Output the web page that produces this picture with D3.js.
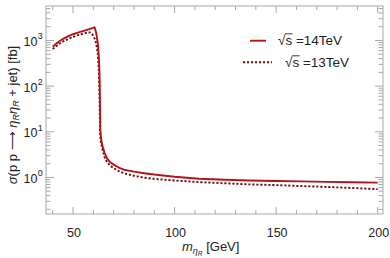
<!DOCTYPE html>
<html><head><meta charset="utf-8">
<script src="https://cdn.jsdelivr.net/npm/d3@7"></script>
<style>body{margin:0;background:#fff}svg{display:block}text{font-family:"Liberation Sans",Arial,sans-serif;fill:#222}</style>
</head><body><svg id="c" width="390" height="258"></svg>
<script>
// masses (GeV) and cross sections (fb)
const mass14 = [40,42,44,46,48,50,52,54,56,58,59.5,60.6,61.4,62.3,62.8,63.1,63.3,63.45,63.8,64.2,64.6,65.5,66.5,68,70,72.5,75,80,85,90,100,112,125,137,150,162,175,187,200];
const xsec14 = [730,870,1010,1140,1260,1370,1470,1570,1670,1770,1860,1946,1480,800,373,150,40,11,7.3,5.6,4.7,3.5,2.75,2.2,1.91,1.65,1.48,1.34,1.24,1.16,1.04,0.94,0.89,0.86,0.84,0.82,0.80,0.785,0.77];
const mass13 = [40,42,44,46,48,50,52,54,56,57.5,58.5,59.4,60.6,61.4,62.2,62.7,63.0,63.2,63.35,63.6,64.0,64.7,65.5,66.5,68,70,72.5,75.4,80,85,90,100,112,125,137,150,162,175,187,200];
const xsec13 = [650,770,890,1000,1100,1200,1290,1370,1450,1495,1505,1390,1110,870,524,225,80,25,9,6.5,5.1,3.8,2.83,2.3,1.86,1.6,1.38,1.22,1.09,0.99,0.93,0.86,0.79,0.745,0.705,0.68,0.65,0.62,0.59,0.555];
const xMajor = [50,100,150,200];
const yMajorExp = [0,1,2,3];
const legendLabels = ["=14TeV","=13TeV"];

const svg = d3.select("#c");
const L=46,R=383,T=6,B=214;
const x = d3.scaleLinear().domain([36.7,202.6]).range([L,R]);
const y = d3.scaleLog().domain([Math.pow(10,-0.80),Math.pow(10,3.755)]).range([B,T]);
const frameCol="#a8a8a8";

// ticks
const g = svg.append("g").attr("stroke",frameCol).attr("stroke-width",1);
const xMinor = d3.range(40,201,10).filter(v=>!xMajor.includes(v));
function xt(v,len){
  g.append("line").attr("x1",x(v)).attr("x2",x(v)).attr("y1",B).attr("y2",B-len);
  g.append("line").attr("x1",x(v)).attr("x2",x(v)).attr("y1",T).attr("y2",T+len);
}
xMajor.forEach(v=>xt(v,7)); xMinor.forEach(v=>xt(v,4));
function yt(v,len){
  g.append("line").attr("y1",y(v)).attr("y2",y(v)).attr("x1",L).attr("x2",L+len);
  g.append("line").attr("y1",y(v)).attr("y2",y(v)).attr("x1",R).attr("x2",R-len);
}
const [y0,y1]=y.domain();
for(let k=-1;k<=3;k++){
  for(let j=1;j<=9;j++){
    const v=j*Math.pow(10,k);
    if(v<y0||v>y1) continue;
    yt(v, j===1?8:4.5);
  }
}
// frame
svg.append("rect").attr("x",L).attr("y",T).attr("width",R-L).attr("height",B-T)
  .attr("fill","none").attr("stroke",frameCol).attr("stroke-width",1);

// x tick labels
svg.append("g").selectAll("text").data(xMajor).join("text")
  .attr("x",d=>x(d)+1).attr("y",236.5).attr("text-anchor","middle")
  .attr("font-size",12.5).text(d=>d);
// y tick labels
svg.append("g").selectAll("text").data(yMajorExp).join("text")
  .attr("x",37.5).attr("y",d=>y(Math.pow(10,d))+5.5).attr("text-anchor","end").attr("font-size",12.5).text("10");
svg.append("g").selectAll("text").data(yMajorExp).join("text")
  .attr("x",37.8).attr("y",d=>y(Math.pow(10,d))-1).attr("font-size",9).text(d=>d);

// curves
const line = d3.line().x(d=>x(d[0])).y(d=>y(d[1]));
svg.append("clipPath").attr("id","cp").append("rect").attr("x",L).attr("y",T).attr("width",R-L).attr("height",B-T);
const d14 = mass14.map((m,i)=>[m,xsec14[i]]);
const d13 = mass13.map((m,i)=>[m,xsec13[i]]);
const col14="#b3141b", col13="#70100f";
svg.append("path").attr("clip-path","url(#cp)").attr("d",line(d13)).attr("fill","none")
  .attr("stroke",col13).attr("stroke-width",1.9).attr("stroke-dasharray","2.2,1.8");
svg.append("path").attr("clip-path","url(#cp)").attr("d",line(d14)).attr("fill","none")
  .attr("stroke",col14).attr("stroke-width",1.9).attr("stroke-linejoin","round");

// legend
const lg = svg.append("g");
lg.append("line").attr("x1",250).attr("x2",266).attr("y1",40.7).attr("y2",40.7).attr("stroke",col14).attr("stroke-width",1.9);
lg.append("line").attr("x1",243).attr("x2",272).attr("y1",62.3).attr("y2",62.3).attr("stroke",col13).attr("stroke-width",1.9).attr("stroke-dasharray","2.2,1.8");
function sqrtLabel(x0,yb,label){
  const t = lg.append("text").attr("x",x0).attr("y",yb).attr("font-size",13.5);
  t.append("tspan").text("\u221A");
  t.append("tspan").text("s");
  t.append("tspan").text(" "+label);
  const n = t.node();
  const sEnd = n.getEndPositionOfChar(1).x;
  const rootEnd = n.getEndPositionOfChar(0).x;
  lg.append("line").attr("x1",rootEnd-0.5).attr("x2",sEnd+0.5).attr("y1",yb-11.2).attr("y2",yb-11.2)
    .attr("stroke","#222").attr("stroke-width",0.9);
}
sqrtLabel(278,45,legendLabels[0]);
sqrtLabel(285,67,legendLabels[1]);

// axis labels
const xl = svg.append("text").attr("x",182).attr("y",251).attr("font-size",13);
xl.append("tspan").attr("font-style","italic").text("m");
xl.append("tspan").attr("font-style","italic").attr("font-size",9).attr("dy",3).text("\u03B7");
xl.append("tspan").attr("font-style","italic").attr("font-size",6.5).attr("dy",1.5).text("R");
xl.append("tspan").attr("dy",-4.5).text(" [GeV]");

const ylab = svg.append("text").attr("transform","translate(16.5,115) rotate(-90)").attr("text-anchor","middle").attr("font-size",13);
ylab.append("tspan").attr("font-style","italic").text("\u03C3");
ylab.append("tspan").text("(p p \u27F6 ");
ylab.append("tspan").attr("font-style","italic").text("\u03B7");
ylab.append("tspan").attr("font-style","italic").attr("font-size",9).attr("dy",2.5).text("R");
ylab.append("tspan").attr("font-style","italic").attr("dy",-2.5).text("\u03B7");
ylab.append("tspan").attr("font-style","italic").attr("font-size",9).attr("dy",2.5).text("R");
ylab.append("tspan").attr("dy",-2.5).text(" + jet) [fb]");
</script></body></html>
